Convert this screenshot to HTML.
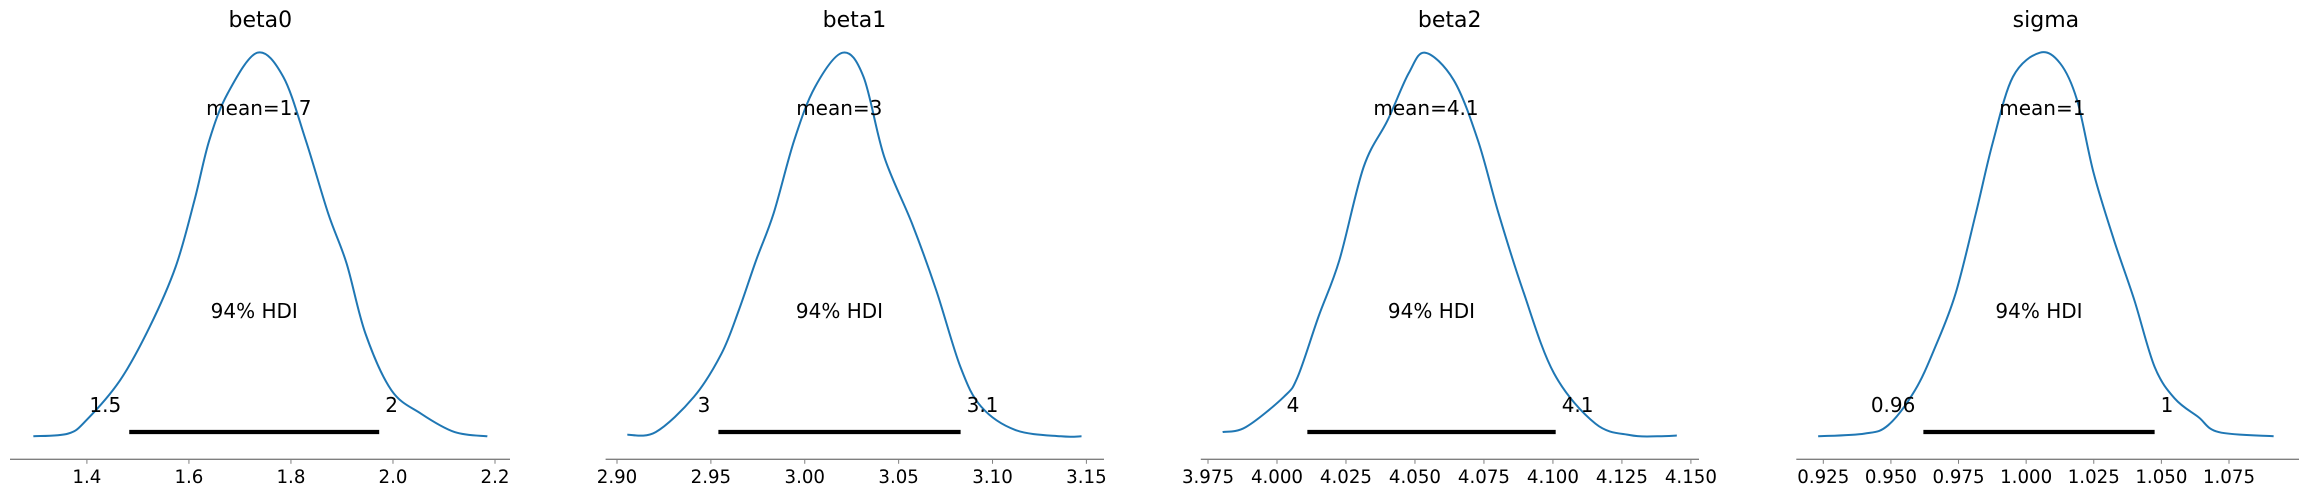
<!DOCTYPE html>
<html><head><meta charset="utf-8"><style>
html,body{margin:0;padding:0;background:#fff;}
svg{display:block;font-family:"DejaVu Sans","Liberation Sans",sans-serif;}
</style></head><body>
<svg id="chart" width="2301" height="497" viewBox="0 0 2301 497"></svg>
<script>
// ---- data ----
const paramNames = ["beta0", "beta1", "beta2", "sigma"];
const beta0X = [1.295,1.363,1.399,1.465,1.523,1.574,1.611,1.640,1.676,1.734,1.785,1.829,1.873,1.909,1.946,1.997,2.055,2.121,2.185];
const beta0D = [0,0.007,0.042,0.146,0.285,0.442,0.616,0.772,0.894,1.0,0.937,0.772,0.581,0.451,0.268,0.120,0.059,0.011,0];
const beta1X = [2.9055,2.9206,2.941,2.9557,2.9649,2.9741,2.9834,2.9944,3.0055,3.0202,3.0313,3.0423,3.0571,3.07,3.0829,3.094,3.1124,3.1364,3.1474];
const beta1D = [0.004,0.011,0.103,0.216,0.329,0.459,0.581,0.772,0.911,1.0,0.937,0.729,0.555,0.381,0.181,0.077,0.016,0,0];
const beta2X = [3.9803,3.9887,4.0025,4.0075,4.015,4.0226,4.0314,4.0401,4.0477,4.0537,4.0640,4.0728,4.0803,4.0891,4.1004,4.1154,4.128,4.138,4.1449];
const beta2D = [0.011,0.024,0.103,0.155,0.311,0.459,0.702,0.824,0.946,1.0,0.929,0.772,0.581,0.381,0.164,0.033,0.003,0,0.002];
const sigmaX = [0.9231,0.9402,0.9490,0.9589,0.9664,0.9739,0.9814,0.9876,0.9951,1.0051,1.0126,1.0188,1.0250,1.0325,1.040,1.0475,1.055,1.0637,1.0712,1.0915];
const sigmaD = [0,0.007,0.029,0.12,0.233,0.372,0.581,0.764,0.937,1.0,0.972,0.877,0.685,0.511,0.355,0.181,0.098,0.050,0.011,0];
const meanValues = [1.737, 3.0184, 4.054, 1.006];
const meanLabels = ["mean=1.7", "mean=3", "mean=4.1", "mean=1"];
const hdiLow = [1.483, 2.954, 4.011, 0.962];
const hdiHigh = [1.973, 3.083, 4.101, 1.0475];
const hdiLowLabels = ["1.5", "3", "4", "0.96"];
const hdiHighLabels = ["2", "3.1", "4.1", "1"];
const tickValues = [[1.4,1.6,1.8,2.0,2.2],[2.90,2.95,3.00,3.05,3.10,3.15],[3.975,4.000,4.025,4.050,4.075,4.100,4.125,4.150],[0.925,0.950,0.975,1.000,1.025,1.050,1.075]];
const tickLabels = [["1.4","1.6","1.8","2.0","2.2"],["2.90","2.95","3.00","3.05","3.10","3.15"],["3.975","4.000","4.025","4.050","4.075","4.100","4.125","4.150"],["0.925","0.950","0.975","1.000","1.025","1.050","1.075"]];

// ---- layout ----
const seriesX = [beta0X, beta1X, beta2X, sigmaX];
const seriesD = [beta0D, beta1D, beta2D, sigmaD];
const calib = [[1.4,86.9,2.2,495],[2.90,617,3.15,1086.4],[3.975,1208,4.150,1690.9],[0.925,1823.3,1.075,2229]];
const axisExt = [[10,510],[605.6,1104],[1200.8,1699],[1796.3,2299]];
const BASE = 436.3, PEAK = 52.7, AXY = 459.3;
const NS = "http://www.w3.org/2000/svg";
const svg = document.getElementById('chart');
function mk(tag, attrs, parent){ const e=document.createElementNS(NS,tag); for(const k in attrs) e.setAttribute(k,attrs[k]); (parent||svg).appendChild(e); return e; }
function yScale(d){ return BASE - d*(BASE-PEAK); }

for (let p=0; p<4; p++){
  const c = calib[p];
  const xs = v => c[1] + (v-c[0])*(c[3]-c[1])/(c[2]-c[0]);
  const g = mk('g', {});
  
  
  const t = mk('text', {x: xs((seriesX[p][0]+seriesX[p][seriesX[p].length-1])/2), y: 27, 'text-anchor':'middle', 'font-size':22, fill:'#000'}, g);
  t.textContent = paramNames[p];
  
  
  const ax = mk('line', {x1: axisExt[p][0], x2: axisExt[p][1], y1: AXY, y2: AXY, stroke:'#7f7f7f', 'stroke-width':1.3}, g);
  
  
  tickValues[p].forEach((tv, i) => {
    const x = xs(tv);
    const tk = mk('line', {x1:x, x2:x, y1:AXY, y2:AXY+4.5, stroke:'#7f7f7f', 'stroke-width':1}, g);
    
    
    const tl = mk('text', {x:x, y:483, 'text-anchor':'middle', 'font-size':18.2, fill:'#000'}, g);
    tl.textContent = tickLabels[p][i];
    
    
  });
  const pts = seriesX[p].map((v,i)=>[xs(v), yScale(seriesD[p][i])]);
  let d = 'M' + pts[0][0].toFixed(2) + ',' + pts[0][1].toFixed(2);
  for (let i=0;i<pts.length-1;i++){
    const p0=pts[Math.max(0,i-1)], p1=pts[i], p2=pts[i+1], p3=pts[Math.min(pts.length-1,i+2)];
    const c1=[p1[0]+(p2[0]-p0[0])/6, p1[1]+(p2[1]-p0[1])/6];
    const c2=[p2[0]-(p3[0]-p1[0])/6, p2[1]-(p3[1]-p1[1])/6];
    d += ' C'+c1[0].toFixed(2)+','+c1[1].toFixed(2)+' '+c2[0].toFixed(2)+','+c2[1].toFixed(2)+' '+p2[0].toFixed(2)+','+p2[1].toFixed(2);
  }
  const curve = mk('path', {d:d, fill:'none', stroke:'#1f77b4', 'stroke-width':2}, g);
  
  
  const x0 = xs(hdiLow[p]), x1 = xs(hdiHigh[p]);
  const bar = mk('line', {x1:x0, x2:x1, y1:432, y2:432, stroke:'#000', 'stroke-width':4.2}, g);
  
  
  const ll = mk('text', {x:x0-8, y:412, 'text-anchor':'end', 'font-size':20, fill:'#000'}, g);
  ll.textContent = hdiLowLabels[p];
  
  
  const hl = mk('text', {x:x1+6, y:412, 'text-anchor':'start', 'font-size':20, fill:'#000'}, g);
  hl.textContent = hdiHighLabels[p];
  
  
  const hdiT = mk('text', {x:(x0+x1)/2, y:318, 'text-anchor':'middle', 'font-size':20, fill:'#000'}, g);
  hdiT.textContent = '94% HDI';
  
  
  const mT = mk('text', {x:xs(meanValues[p]), y:115, 'text-anchor':'middle', 'font-size':20, fill:'#000'}, g);
  mT.textContent = meanLabels[p];
  
  
}
</script>
</body></html>
